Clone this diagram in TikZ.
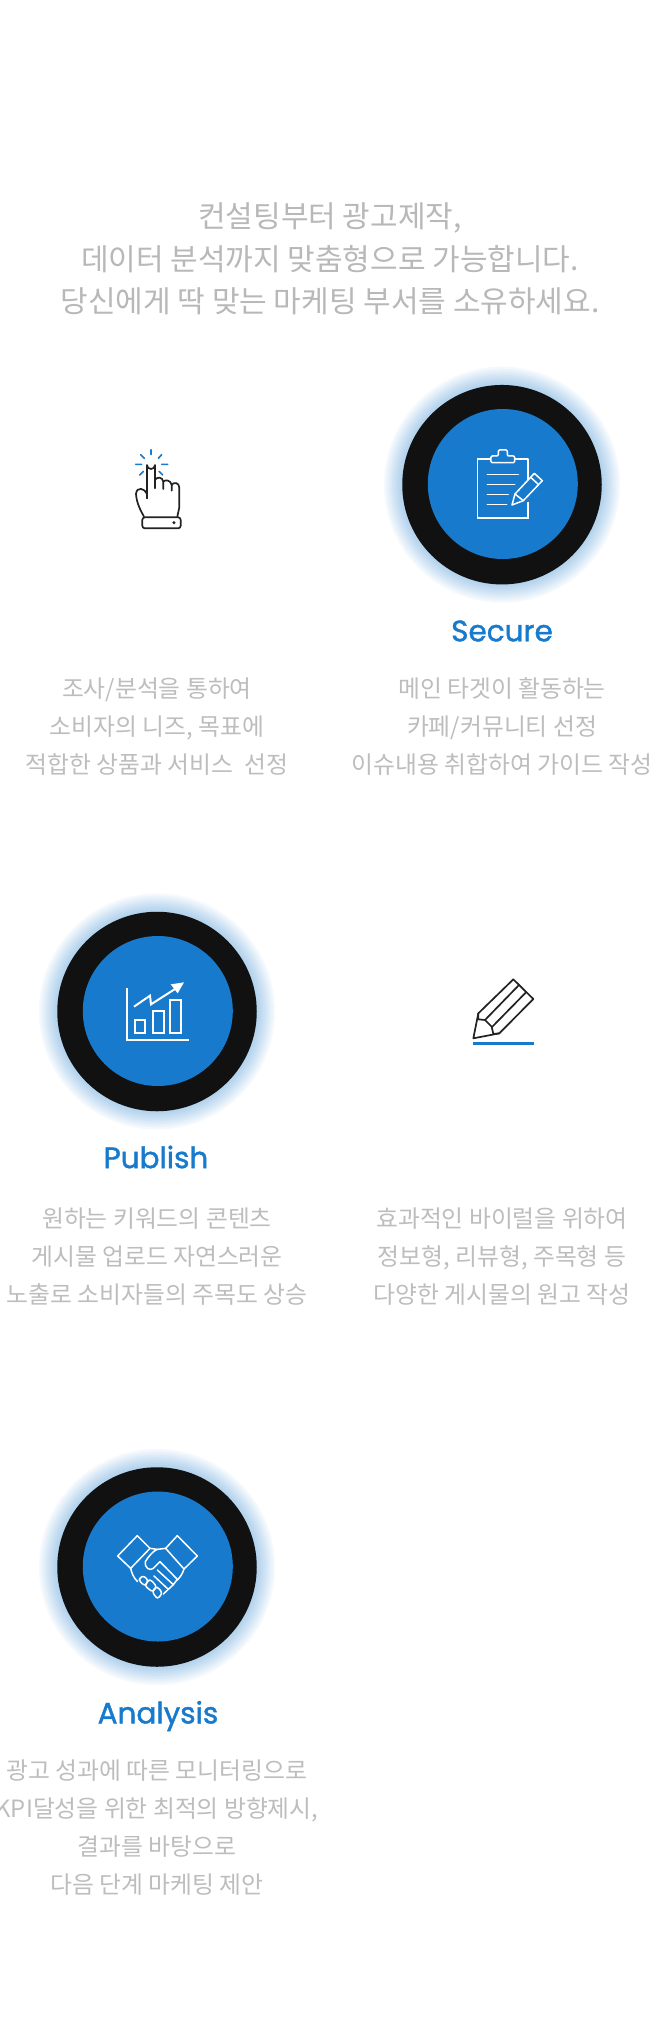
\documentclass[tikz,border=0pt]{standalone}
\usepackage{fontspec}
\setmainfont{Noto Sans CJK KR}
\newfontfamily\titlefont[RawFeature={embolden=1.4}]{Poppins}
\usetikzlibrary{calc}
\definecolor{brand}{HTML}{177ACC}
\definecolor{ring}{HTML}{111111}
\definecolor{bodygray}{HTML}{BDBDBD}
\definecolor{headgray}{HTML}{B8B8B8}
\definecolor{iconink}{HTML}{222222}
\tikzset{
  x=1pt,y=-1pt,
  bodytext/.style={text=bodygray,font=\fontsize{23.8}{38}\selectfont,align=center,inner sep=0pt},
  headtext/.style={text=headgray,font=\fontsize{30}{42.3}\selectfont,align=center,inner sep=0pt},
  titletext/.style={text=brand,font=\titlefont\fontsize{29.5}{36}\selectfont,inner sep=0pt},
  ringdisc/.style={circle,fill=ring,minimum size=199.5pt,inner sep=0pt},
  innerdisc/.style={circle,fill=brand,minimum size=150pt,inner sep=0pt},
  wline/.style={draw=white,line width=1.5pt,line join=round,line cap=round},
  kline/.style={draw=iconink,line width=1.7pt,line join=round,line cap=round},
  bline/.style={draw=brand,line width=1.6pt,line cap=round}
}
\newcommand{\glowdisc}[2]{%
  \foreach \r in {118,116,...,100}{\fill[brand,opacity=0.04] (#1,#2) circle[radius=\r];}%
}
\begin{document}
\begin{tikzpicture}
\useasboundingbox (0,0) rectangle (660,2018);
\fill[white] (0,0) rectangle (660,2018);
\node[headtext] (head) at (330,259) {컨설팅부터 광고제작,\\데이터 분석까지 맞춤형으로 가능합니다.\\당신에게 딱 맞는 마케팅 부서를 소유하세요.};

% circles
\glowdisc{502}{484.7}
\node[ringdisc] (ringA) at (502,484.7) {};
\node[innerdisc] (discA) at (502.8,484) {};
\glowdisc{157}{1011.5}
\node[ringdisc] (ringB) at (157,1011.5) {};
\node[innerdisc] (discB) at (157.8,1011) {};
\glowdisc{157}{1567}
\node[ringdisc] (ringC) at (157,1567) {};
\node[innerdisc] (discC) at (157.8,1566.5) {};

% titles
\node[titletext] (tA) at (502,631) {Secure};
\node[titletext] (tB) at (156,1157) {Publish};
\node[titletext] (tC) at (158,1716) {Analysis};

% bodies
\node[bodytext] (b1) at (157,726.5) {조사/분석을 통하여\\소비자의 니즈, 목표에\\적합한 상품과 서비스\ \ 선정};
\node[bodytext] (b2) at (502,726.5) {메인 타겟이 활동하는\\카페/커뮤니티 선정\\이슈내용 취합하여 가이드 작성};
\node[bodytext] (b3) at (157,1256.5) {원하는 키워드의 콘텐츠\\게시물 업로드 자연스러운\\노출로 소비자들의 주목도 상승};
\node[bodytext] (b4) at (502,1256.5) {효과적인 바이럴을 위하여\\정보형, 리뷰형, 주목형 등\\다양한 게시물의 원고 작성};
\node[bodytext] (b5) at (157,1828) {광고 성과에 따른 모니터링으로\\KPI달성을 위한 최적의 방향제시,\\결과를 바탕으로\\다음 단계 마케팅 제안};

% hand icon
\begin{scope}[shift={(100,420)},x=0.3333pt,y=-0.3333pt]
 \draw[bline] (153,89)--(153,104) (122,104)--(133,115) (185,104)--(175,115) (107,133)--(125,133) (185,133)--(203,133) (119,165)--(130,154) (188,165)--(177,154);
 \draw[kline] (141,235)--(141,135) arc[start angle=180,end angle=0,radius=12] -- (165,205);
 \draw[kline] (165,180) .. controls (170,170) and (188,170) .. (190,185) -- (190,207);
 \draw[kline] (190,185) .. controls (195,178) and (213,180) .. (215,195) -- (215,212);
 \draw[kline] (215,195) .. controls (220,185) and (238,187) .. (238,203) -- (238,262) -- (232,290);
 \draw[kline] (141,235) -- (141,222) .. controls (135,205) and (110,198) .. (108,222) .. controls (110,250) and (122,272) .. (132,290);
 \draw[kline,rounded corners=2.5pt] (127,292) rectangle (242,325);
 \fill[iconink] (222,308) circle[radius=5];
\end{scope}

% clipboard icon
\begin{scope}[shift={(380,370)},x=0.3333pt,y=-0.3333pt]
 \draw[wline,line cap=butt,line join=miter] (333,267)--(293,267)--(293,444)--(444,444)--(444,395);
 \draw[wline,line cap=butt] (404,267)--(444,267)--(444,340);
 \draw[wline,rounded corners=1.2pt] (333,258)--(355,258)--(355,240)--(382,240)--(382,258)--(404,258)--(404,278)--(333,278)--cycle;
 \draw[wline] (322,313)--(415,313) (322,343)--(404,343) (322,373)--(385,373) (322,403)--(380,403);
 \draw[wline,fill=brand] (396,405)--(405,372)--(463,310)--(487,332)--(430,392)--cycle;
 \draw[wline] (452,322)--(476,344) (405,372)--(430,392);
\end{scope}

% chart icon
\begin{scope}[shift={(100,950)},x=0.3333pt,y=-0.3333pt]
 \draw[wline,line width=1.7pt,line cap=butt,line join=miter] (81,115)--(81,269)--(267,269);
 \draw[wline,line width=1.7pt,line cap=butt,line join=miter] (105,210) rectangle (136,248);
 \draw[wline,line width=1.7pt,line cap=butt,line join=miter] (158,182) rectangle (191,248);
 \draw[wline,line width=1.7pt,line cap=butt,line join=miter] (210,150) rectangle (243,248);
 \draw[wline,line width=2pt,line cap=butt,line join=miter] (102,170)--(150,137)--(153,163)--(225,117);
 \fill[white] (252,97)--(212,103)--(233,130)--cycle;
\end{scope}

% pencil icon
\begin{scope}[shift={(450,960)},x=0.3333pt,y=-0.3333pt]
 \draw[kline] (70,235)--(85,160)--(190,58)--(250,117)--(148,220)--cycle;
 \draw[kline] (85,160)--(85,178)--(105,180)--(125,200)--(130,222)--(148,220);
 \draw[kline] (105,180)--(206,76) (127,200)--(228,97);
 \fill[brand] (68,247) rectangle (252,255);
\end{scope}

% handshake icon
\begin{scope}[shift={(100,1510)},x=0.3333pt,y=-0.3333pt]
 \draw[wline] (53,138)--(112,77)--(150,115)--(92,175)--cycle;
 \draw[wline] (197,115)--(232,77)--(292,138)--(252,177)--cycle;
 \draw[wline] (92,175) .. controls (95,190) and (102,205) .. (113,215);
 \draw[wline] (150,115)--(172,118)--(197,115);
 \draw[wline] (252,177) .. controls (248,190) and (242,200) .. (232,210);
 \draw[wline] (172,118) .. controls (160,122) and (145,140) .. (136,155) .. controls (132,172) and (150,185) .. (160,175)--(180,155)--(232,208)--(220,224)--(172,180);
 \draw[wline] (220,224)--(205,238)--(162,198);
 \draw[wline] (205,238)--(190,252);
 \draw[wline,rounded corners=2.5pt] (120,203)--(131,197)--(145,212)--(135,228)--(117,212)--cycle;
 \draw[wline,rounded corners=2.5pt] (143,212)--(153,209)--(170,230)--(158,246)--(135,228)--cycle;
 \draw[wline,rounded corners=2.5pt] (165,232)--(175,232)--(187,250)--(172,267)--(157,246)--cycle;
\end{scope}
\end{tikzpicture}
\end{document}
